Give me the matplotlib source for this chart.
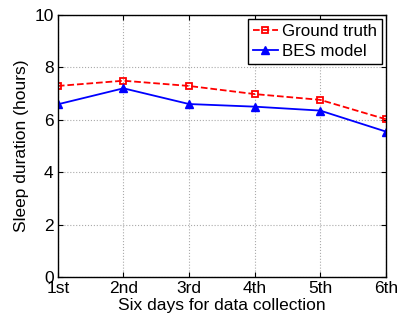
import matplotlib
matplotlib.use("Agg")
import matplotlib.pyplot as plt

plt.rcParams['font.family'] = ['Liberation Sans', 'DejaVu Sans']

days = ["1st", "2nd", "3rd", "4th", "5th", "6th"]
ground_truth = [7.29, 7.49, 7.29, 6.98, 6.76, 6.02]
bes_model = [6.59, 7.20, 6.60, 6.50, 6.35, 5.55]

fig = plt.figure(figsize=(3.99, 3.18), dpi=100)
ax = fig.add_axes([0.145, 0.129, 0.822, 0.824])

x = range(len(days))
ax.plot(x, ground_truth, "r--s", lw=1.3, ms=4, mfc="none", mew=1.3,
        label="Ground truth")
ax.plot(x, bes_model, "b-^", lw=1.3, ms=5.5, label="BES model")

ax.set_xlim(0, 5)
ax.set_ylim(0, 10)
ax.set_xticks(list(x))
ax.set_xticklabels(days)
ax.set_yticks([0, 2, 4, 6, 8, 10])
ax.grid(True, ls=":", color="#aaaaaa", lw=0.8)
ax.tick_params(direction="in", top=True, right=True, labelsize=12.5, pad=3)
for s in ax.spines.values():
    s.set_linewidth(1.0)

ax.set_xlabel("Six days for data collection", fontsize=12.5, labelpad=1)
ax.set_ylabel("Sleep duration (hours)", fontsize=12.5, labelpad=4)

leg = ax.legend(loc="upper right", fontsize=12.2, fancybox=False, framealpha=1,
                edgecolor="black", borderpad=0.3, labelspacing=0.3,
                handlelength=1.5, handletextpad=0.2, borderaxespad=0.25)
leg.get_frame().set_linewidth(1.0)

fig.savefig("out.png", dpi=100)
